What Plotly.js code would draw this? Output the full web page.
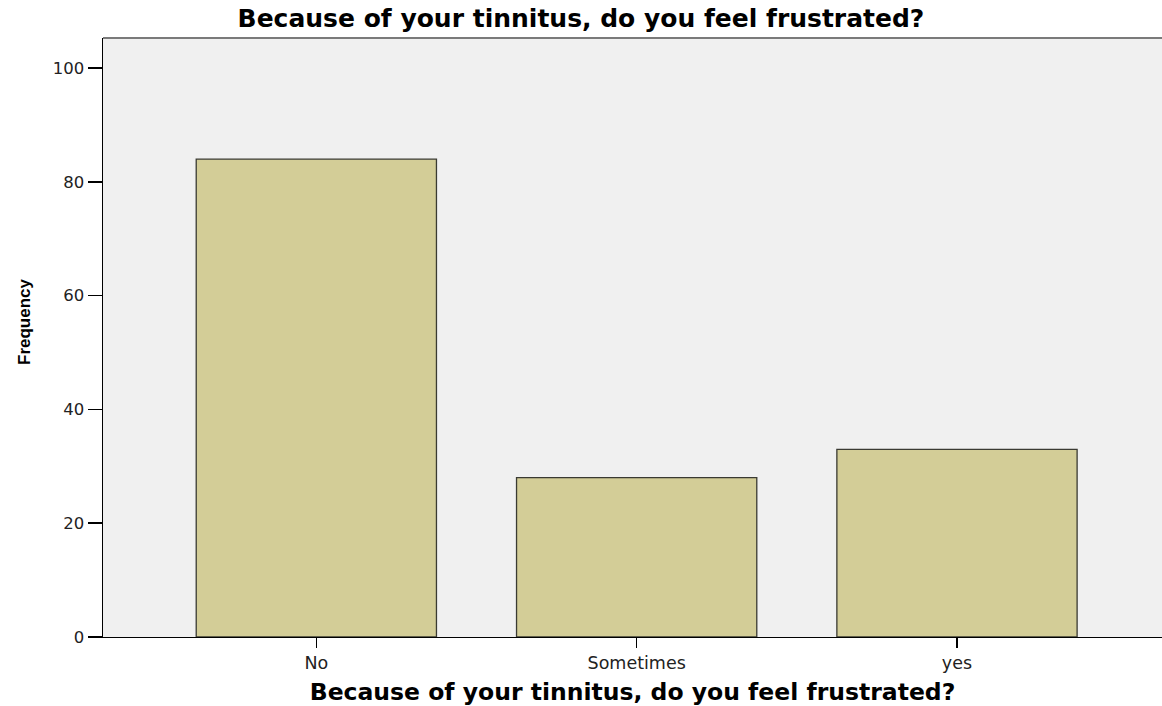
<!DOCTYPE html>
<html>
<head>
<meta charset="utf-8">
<script src="https://cdn.plot.ly/plotly-3.0.1.min.js"></script>
<style>html,body{margin:0;padding:0;background:#fff;}#chart{width:1162px;height:706px;}</style>
</head>
<body>
<div id="chart"></div>
<script>
const categories = ["No", "Sometimes", "yes"];
const frequencies = [84, 28, 33];
const yTickValues = [0, 20, 40, 60, 80, 100];
const chartTitle = "Because of your tinnitus, do you feel frustrated?";
const xTitle = "Because of your tinnitus, do you feel frustrated?";
const yTitle = "Frequency";

const wide = "DejaVu Sans, Verdana, sans-serif";

const trace = {
  type: "bar",
  x: categories,
  y: frequencies,
  width: 0.75,
  marker: { color: "#d3cd97", line: { color: "#3a3a32", width: 1.3 } },
  hoverinfo: "x+y"
};

const layout = {
  width: 1162, height: 706,
  margin: { l: 103, r: 0, t: 38, b: 69 },
  paper_bgcolor: "#ffffff",
  plot_bgcolor: "#f0f0f0",
  showlegend: false,
  font: { family: wide, color: "#000" },
  title: {
    text: chartTitle,
    font: { family: wide, size: 25, color: "#000", weight: "bold" },
    x: 0.5, xref: "container", xanchor: "center",
    y: 1 - 18/706, yref: "container", yanchor: "middle"
  },
  xaxis: {
    type: "category",
    range: [-0.666, 2.64],
    showgrid: false, zeroline: false,
    showline: true, linecolor: "#000", linewidth: 1.3,
    ticks: "outside", ticklen: 10, tickwidth: 1.5, tickcolor: "#000",
    tickfont: { family: wide, size: 17.5, color: "#222" },
    title: { text: xTitle, font: { family: wide, size: 23.5, color: "#000", weight: "bold" }, standoff: 16 }
  },
  yaxis: {
    range: [0, 105.3],
    tickvals: yTickValues,
    showgrid: false, zeroline: false,
    showline: true, linecolor: "#000", linewidth: 1.5,
    ticks: "outside", ticklen: 14, tickwidth: 1.5, tickcolor: "#000",
    tickfont: { family: wide, size: 16.5, color: "#222" }
  },
  annotations: [
    {
      text: yTitle, textangle: -90, showarrow: false,
      xref: "paper", x: 0, xanchor: "center", xshift: -79,
      yref: "paper", y: (637 - 322) / 599, yanchor: "middle",
      font: { family: "Liberation Sans, Arial, sans-serif", size: 17, color: "#000", weight: "bold" }
    }
  ],
  shapes: [
    { type: "line", xref: "paper", yref: "paper", x0: 0, x1: 1, y0: 1, y1: 1, line: { color: "#7a7a7a", width: 2 } }
  ]
};

Plotly.newPlot("chart", [trace], layout, { displayModeBar: false, staticPlot: true });
</script>
</body>
</html>
